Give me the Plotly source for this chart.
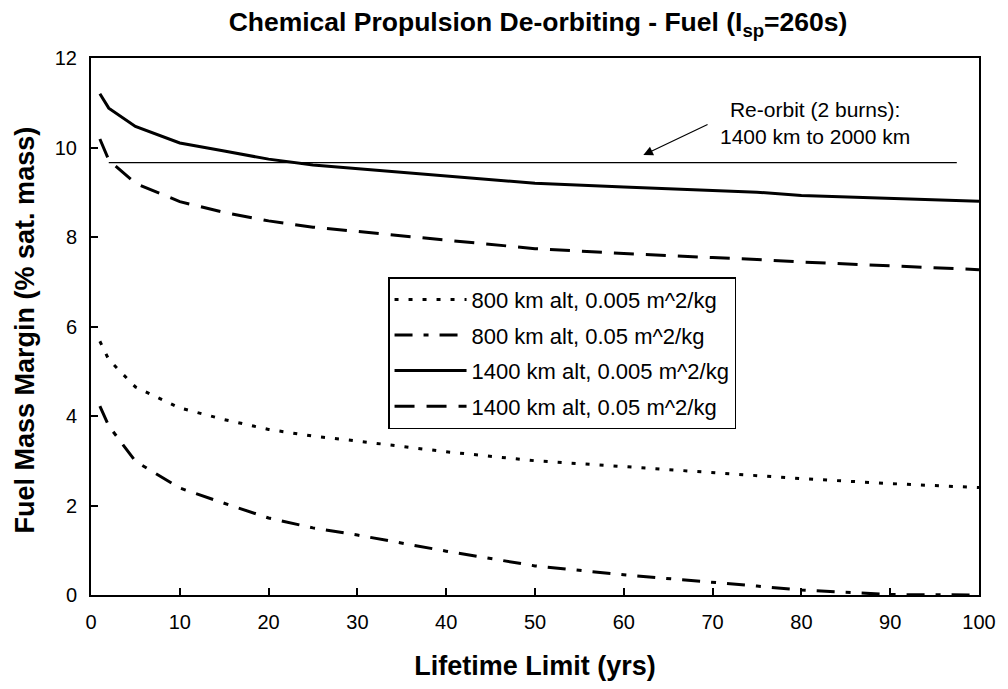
import plotly.graph_objects as go

years = [1, 2, 5, 10, 15, 20, 25, 30, 40, 50, 60, 70, 75, 80, 90, 100]
alt800_a005 = [5.67, 5.26, 4.65, 4.18, 3.92, 3.70, 3.55, 3.44, 3.20, 3.00, 2.87, 2.73, 2.66, 2.60, 2.49, 2.40]
alt800_a05 = [4.22, 3.78, 2.99, 2.39, 2.05, 1.72, 1.50, 1.34, 0.98, 0.65, 0.45, 0.29, 0.20, 0.11, 0.01, 0.0]
alt1400_a005 = [11.2, 10.88, 10.47, 10.1, 9.92, 9.74, 9.61, 9.53, 9.36, 9.20, 9.12, 9.04, 9.00, 8.93, 8.86, 8.80]
alt1400_a05 = [10.19, 9.72, 9.20, 8.79, 8.55, 8.36, 8.22, 8.12, 7.93, 7.74, 7.63, 7.54, 7.50, 7.44, 7.35, 7.27]

reorbit_x = [2, 97.5]
reorbit_y = [9.66, 9.66]

names = ["800 km alt, 0.005 m^2/kg", "800 km alt, 0.05 m^2/kg",
         "1400 km alt, 0.005 m^2/kg", "1400 km alt, 0.05 m^2/kg"]
series = [alt800_a005, alt800_a05, alt1400_a005, alt1400_a05]
dashes = ["4px,10px", "18px,11px,5px,11px", "solid", "20px,12px"]

fig = go.Figure()
for i, (n, s, d) in enumerate(zip(names, series, dashes)):
    fig.add_trace(go.Scatter(x=years, y=s, mode="lines", name=n,
                             legendgroup=str(i),
                             line=dict(color="black", width=3, dash=d)))

fig.add_trace(go.Scatter(x=reorbit_x, y=reorbit_y, mode="lines", showlegend=False,
                         line=dict(color="black", width=1.3), hoverinfo="skip"))

fig.add_annotation(x=81.5, y=10.55, xref="x", yref="y",
                   text="Re-orbit (2 burns):<br>1400 km to 2000 km", showarrow=False,
                   font=dict(family="Arial", size=21, color="black"), align="center")
fig.add_annotation(x=62.2, y=9.83, ax=69.6, ay=10.53, xref="x", yref="y",
                   axref="x", ayref="y", text="", showarrow=True,
                   arrowhead=2, arrowsize=1.6, arrowwidth=1.2, arrowcolor="black")

# y-axis title as rotated annotation for precise placement
fig.add_annotation(x=-0.0738, y=0.4935, xref="paper", yref="paper",
                   text="<b>Fuel Mass Margin (% sat. mass)</b>", textangle=-90,
                   showarrow=False, xanchor="center", yanchor="middle",
                   font=dict(family="Arial", size=27, color="black"))

# page body has an 8px margin, so the figure is drawn 8px right/down
fig.update_layout(
    width=1000, height=681,
    paper_bgcolor="white", plot_bgcolor="white",
    margin=dict(l=83, r=23, t=50, b=94),
    font=dict(family="Arial", color="black"),
    title=dict(text="<b>Chemical Propulsion De-orbiting - Fuel (I<sub>sp</sub>=260s)</b>",
               x=0.53, xanchor="center", y=1 - 14 / 681, yanchor="middle",
               font=dict(family="Arial", size=26.5, color="black")),
    legend=dict(x=0.3345, y=0.592, xanchor="left", yanchor="top",
                bordercolor="black", borderwidth=1.5, bgcolor="white",
                font=dict(family="Arial", size=22, color="black"),
                tracegroupgap=4, traceorder="grouped", itemwidth=72),
    showlegend=True,
)
fig.update_xaxes(range=[0, 100], dtick=10, tick0=0,
                 showline=True, linecolor="black", linewidth=2, mirror=True,
                 ticks="inside", ticklen=7, tickwidth=1.5, tickcolor="black",
                 showgrid=False, zeroline=False, ticklabelstandoff=8,
                 tickfont=dict(family="Arial", size=20, color="black"),
                 title=dict(text="<b>Lifetime Limit (yrs)</b>", standoff=24,
                            font=dict(family="Arial", size=27, color="black")))
fig.update_yaxes(range=[0, 12], dtick=2, tick0=0,
                 showline=True, linecolor="black", linewidth=2, mirror=True,
                 ticks="inside", ticklen=7, tickwidth=1.5, tickcolor="black",
                 showgrid=False, zeroline=False, ticklabelstandoff=8,
                 tickfont=dict(family="Arial", size=20, color="black"))

fig.write_html("out.html")
